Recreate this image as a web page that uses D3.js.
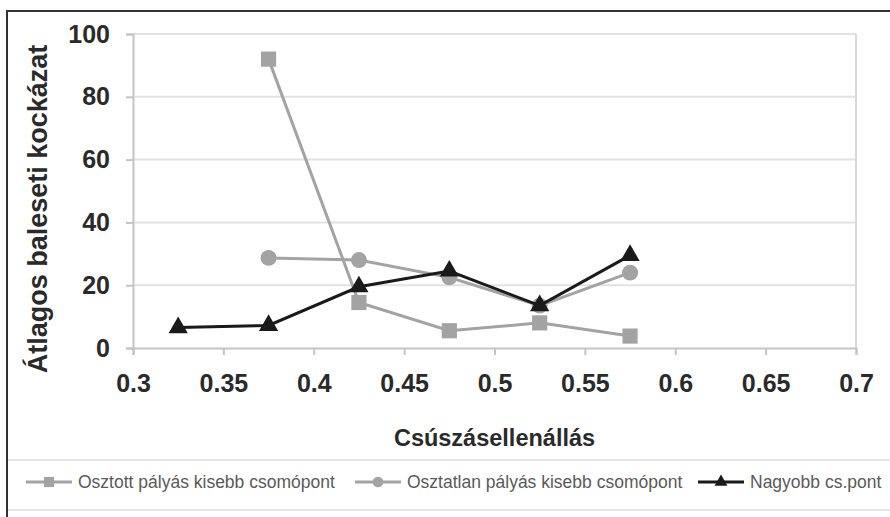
<!DOCTYPE html>
<html>
<head>
<meta charset="utf-8">
<script src="https://cdn.jsdelivr.net/npm/d3@7"></script>
<style>
  body { margin: 0; background: #fff; }
  text { font-family: "Liberation Sans", Arial, sans-serif; }
</style>
</head>
<body>
<svg id="chart"></svg>
<script>
// adatok
const xValues = [0.325, 0.375, 0.425, 0.475, 0.525, 0.575];
const osztott = [null, 92, 14.5, 5.5, 8, 3.8];
const osztatlan = [null, 28.7, 28, 22.5, 13.5, 24];
const nagyobb = [6.5, 7.2, 19.5, 24.5, 13.5, 29.5];
const seriesNames = ["Osztott pályás kisebb csomópont", "Osztatlan pályás kisebb csomópont", "Nagyobb cs.pont"];
const xTicks = [0.3, 0.35, 0.4, 0.45, 0.5, 0.55, 0.6, 0.65, 0.7];
const yTicks = [0, 20, 40, 60, 80, 100];

const width = 890, height = 517;
const margin = { top: 34, right: 34, bottom: 169, left: 133 };

const svg = d3.select("#chart")
    .attr("width", width)
    .attr("height", height);

const x = d3.scaleLinear().domain([0.3, 0.7]).range([margin.left, width - margin.right]);
const y = d3.scaleLinear().domain([0, 100]).range([height - margin.bottom, margin.top]);

// külső keret
svg.append("path")
    .attr("d", `M7,${height} V11 H${width}`)
    .attr("fill", "none")
    .attr("stroke", "#333")
    .attr("stroke-width", 2);

// rácsvonalak
svg.append("g")
    .selectAll("line")
    .data(yTicks.filter(d => d > 0))
    .enter().append("line")
    .attr("x1", x(0.3)).attr("x2", x(0.7))
    .attr("y1", d => y(d)).attr("y2", d => y(d))
    .attr("stroke", "#e2e2e2")
    .attr("stroke-width", 2);

// jobb oldali keret
svg.append("line")
    .attr("x1", x(0.7)).attr("x2", x(0.7))
    .attr("y1", y(100)).attr("y2", y(0))
    .attr("stroke", "#d8d8d8")
    .attr("stroke-width", 2);

// tengelyek
const yAxis = svg.append("g")
    .attr("transform", `translate(${margin.left},0)`)
    .call(d3.axisLeft(y).tickValues(yTicks).tickSize(7).tickPadding(16));
const xAxis = svg.append("g")
    .attr("transform", `translate(0,${y(0)})`)
    .call(d3.axisBottom(x).tickValues(xTicks).tickFormat(d => d).tickSize(7).tickPadding(19));

[xAxis, yAxis].forEach(a => {
    a.select(".domain").attr("stroke", "#c4c4c4").attr("stroke-width", 2);
    a.selectAll(".tick line").attr("stroke", "#c4c4c4").attr("stroke-width", 2);
    a.selectAll(".tick text")
        .attr("fill", "#2a2a2a")
        .style("font-size", "25px")
        .style("font-weight", "bold")
        .style("font-family", "'Liberation Sans', Arial, sans-serif");
});

// tengelycímek
svg.append("text")
    .attr("x", (x(0.3) + x(0.7)) / 2)
    .attr("y", 446)
    .attr("text-anchor", "middle")
    .attr("fill", "#2a2a2a")
    .style("font-size", "23.5px")
    .style("font-weight", "bold")
    .text("Csúszásellenállás");

svg.append("text")
    .attr("transform", "translate(47,209) rotate(-90)")
    .attr("text-anchor", "middle")
    .attr("fill", "#2a2a2a")
    .style("font-size", "27px")
    .style("font-weight", "bold")
    .text("Átlagos baleseti kockázat");

// adatsorok
const series = [
    { name: seriesNames[0], values: osztott, color: "#a3a3a3", marker: d3.symbolSquare, size: 230 },
    { name: seriesNames[1], values: osztatlan, color: "#a3a3a3", marker: d3.symbolCircle, size: 200 },
    { name: seriesNames[2], values: nagyobb, color: "#1a1a1a", marker: d3.symbolTriangle, size: 160 }
];

const line = d3.line()
    .defined(d => d.v != null)
    .x(d => x(d.x))
    .y(d => y(d.v));

series.forEach(s => {
    const pts = xValues.map((xv, i) => ({ x: xv, v: s.values[i] }));
    svg.append("path")
        .datum(pts)
        .attr("d", line)
        .attr("fill", "none")
        .attr("stroke", s.color)
        .attr("stroke-width", 3);
    svg.append("g")
        .selectAll("path")
        .data(pts.filter(d => d.v != null))
        .enter().append("path")
        .attr("d", d3.symbol().type(s.marker).size(s.size))
        .attr("transform", d => `translate(${x(d.x)},${y(d.v)})`)
        .attr("fill", s.color);
});

// jelmagyarázat
svg.append("path")
    .attr("d", `M8,460 H${width} M8,510 H${width}`)
    .attr("stroke", "#e6e6e6")
    .attr("stroke-width", 2);

const legendX = [26, 355, 698];
const legend = svg.append("g")
    .selectAll("g")
    .data(series)
    .enter().append("g")
    .attr("transform", (d, i) => `translate(${legendX[i]},482)`);

legend.append("line")
    .attr("x1", 0).attr("x2", 46)
    .attr("stroke", d => d.color)
    .attr("stroke-width", 3);
legend.append("path")
    .attr("d", d => d3.symbol().type(d.marker).size(d.size * 0.45)())
    .attr("transform", "translate(23,0)")
    .attr("fill", d => d.color);
legend.append("text")
    .attr("x", 52)
    .attr("y", 6)
    .attr("fill", "#5a5a5a")
    .style("font-size", "17.5px")
    .text(d => d.name);
</script>
</body>
</html>
